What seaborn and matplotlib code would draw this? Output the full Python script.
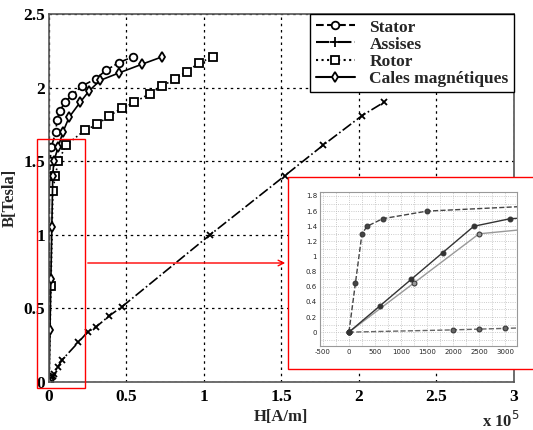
import matplotlib
matplotlib.use("Agg")
import matplotlib.pyplot as plt
from matplotlib.lines import Line2D
from matplotlib.patches import Rectangle
from matplotlib.ticker import FuncFormatter, MultipleLocator
import seaborn as sns

# B-H curves, H in A/m, B in Tesla
stator_h = [0, 125, 250, 350, 650, 1500, 4500, 5000, 7000, 10000, 15000, 21000, 30000, 37000, 45000, 54000]
stator_b = [0, 0.65, 1.3, 1.4, 1.5, 1.6, 1.7, 1.78, 1.84, 1.90, 1.95, 2.01, 2.06, 2.12, 2.17, 2.21]

assises_h = [0, 2000, 2500, 3000, 5500, 8500, 19000, 25000, 30000, 39000, 47000, 104000, 152000, 177000, 202000, 216000]
assises_b = [0, 0.03, 0.04, 0.05, 0.10, 0.15, 0.27, 0.34, 0.37, 0.45, 0.51, 1.0, 1.4, 1.61, 1.81, 1.90]

rotor_h = [0, 1250, 2500, 4000, 6000, 11000, 23000, 31000, 39000, 47000, 55000, 65000, 73000, 81000, 89000, 97000, 106000]
rotor_b = [0, 0.65, 1.3, 1.4, 1.5, 1.61, 1.71, 1.75, 1.81, 1.86, 1.90, 1.96, 2.01, 2.06, 2.11, 2.17, 2.21]

cales_h = [0, 600, 1200, 1800, 2400, 3100, 6000, 9000, 13000, 20000, 26000, 33000, 45000, 60000, 73000]
cales_b = [0, 0.35, 0.7, 1.05, 1.4, 1.5, 1.6, 1.7, 1.8, 1.9, 1.98, 2.05, 2.10, 2.16, 2.21]

labels = ["Stator", "Assises", "Rotor", "Cales magnétiques"]

sns.set_style("white")
plt.rcParams["font.family"] = ["Liberation Serif", "DejaVu Serif"]

fig = plt.figure(figsize=(5.33, 4.3), dpi=100)
ax = fig.add_axes([0.092, 0.112, 0.872, 0.855])

curves = [
    (stator_h, stator_b, "--", "o", 5.5),
    (assises_h, assises_b, "-.", "x", 5),
    (rotor_h, rotor_b, ":", "s", 5.5),
    (cales_h, cales_b, "-", "d", 5.5),
]
for h, b, ls, mk, ms in curves:
    sns.lineplot(x=h, y=b, ax=ax, sort=False, estimator=None, color="black",
                 linestyle=ls, linewidth=1.2, marker=mk, markersize=ms,
                 markerfacecolor="white", markeredgecolor="black", markeredgewidth=1.3)

ax.set_xlim(0, 3e5)
ax.set_ylim(0, 2.5)
ax.xaxis.set_major_locator(MultipleLocator(0.5e5))
ax.yaxis.set_major_locator(MultipleLocator(0.5))
ax.xaxis.set_major_formatter(FuncFormatter(lambda v, p: f"{v / 1e5:g}"))
ax.yaxis.set_major_formatter(FuncFormatter(lambda v, p: f"{v:g}"))
ax.grid(True, linestyle=(0, (2, 3)), color="black", linewidth=0.9)
ax.tick_params(labelsize=12.5, direction="in", length=4, colors="black", pad=5)
ax.tick_params(axis="y", pad=3)
for t in ax.get_xticklabels() + ax.get_yticklabels():
    t.set_fontweight("bold")
for s in ax.spines.values():
    s.set_color("#555555")
    s.set_linewidth(1.2)
ax.set_xlabel("H[A/m]", fontsize=12, fontweight="bold", labelpad=3)
ax.set_ylabel("B[Tesla]", fontsize=12, fontweight="bold", labelpad=4)
fig.text(0.94, 0.008, r"x 10$^5$", fontsize=12, fontweight="bold", ha="center")

handles = [
    Line2D([], [], color="black", linestyle="--", marker="o", markersize=5.5, mfc="white", mec="black", mew=1.3),
    Line2D([], [], color="black", linestyle="-.", marker="+", markersize=7, mec="black", mew=1.3),
    Line2D([], [], color="black", linestyle=":", marker="s", markersize=5.5, mfc="white", mec="black", mew=1.3),
    Line2D([], [], color="black", linestyle="-", marker="d", markersize=5.5, mfc="white", mec="black", mew=1.3),
]
leg = ax.legend(handles, labels, loc="upper right", fancybox=False,
                framealpha=1, edgecolor="black", borderaxespad=0, handlelength=2.3,
                labelspacing=0.05, borderpad=0.3, prop={"weight": "bold", "size": 12.5})
leg.get_frame().set_linewidth(1.0)

# zoom box on main axes and arrow to the inset
ax.add_patch(Rectangle((-7700, -0.04), 30900, 1.69, fill=False, edgecolor="red",
                       linewidth=1.0, clip_on=False, zorder=5))
fig.patches.append(Rectangle((0.540, 0.142), 0.47, 0.446, transform=fig.transFigure,
                             fill=True, facecolor="white", edgecolor="red", linewidth=1.0, zorder=6))
ax.annotate("", xy=(288, 167), xycoords="figure pixels", xytext=(85, 167),
            textcoords="figure pixels",
            arrowprops=dict(arrowstyle="->", color="red", lw=1.0), zorder=7)

# inset: same curves, zoomed on the low-field part
ins = fig.add_axes([0.600, 0.195, 0.370, 0.358])
ins.set_zorder(8)
inset_styles = [
    (stator_h, stator_b, "--", "#444444"),
    (assises_h, assises_b, "--", "#666666"),
    (rotor_h, rotor_b, "-", "#999999"),
    (cales_h, cales_b, "-", "#333333"),
]
for h, b, ls, c in inset_styles:
    sns.lineplot(x=h, y=b, ax=ins, sort=False, estimator=None, color=c,
                 linestyle=ls, linewidth=1.0, marker="o", markersize=3.5,
                 markerfacecolor=c, markeredgecolor="#333333")
ins.set_xlim(-560, 3230)
ins.set_ylim(-0.185, 1.85)
ins.xaxis.set_major_locator(MultipleLocator(500))
ins.yaxis.set_major_locator(MultipleLocator(0.2))
ins.xaxis.set_minor_locator(MultipleLocator(250))
ins.yaxis.set_minor_locator(MultipleLocator(0.1))
ins.xaxis.set_major_formatter(FuncFormatter(lambda v, p: f"{v:g}"))
ins.yaxis.set_major_formatter(FuncFormatter(lambda v, p: f"{v:g}"))
ins.grid(True, which="both", linestyle=":", color="#bbbbbb", linewidth=0.6)
ins.tick_params(labelsize=5, length=0, pad=2)
for t in ins.get_xticklabels() + ins.get_yticklabels():
    t.set_family("DejaVu Sans")
for s in ins.spines.values():
    s.set_color("#999999")
    s.set_linewidth(0.8)

fig.savefig("out.png", dpi=100)
